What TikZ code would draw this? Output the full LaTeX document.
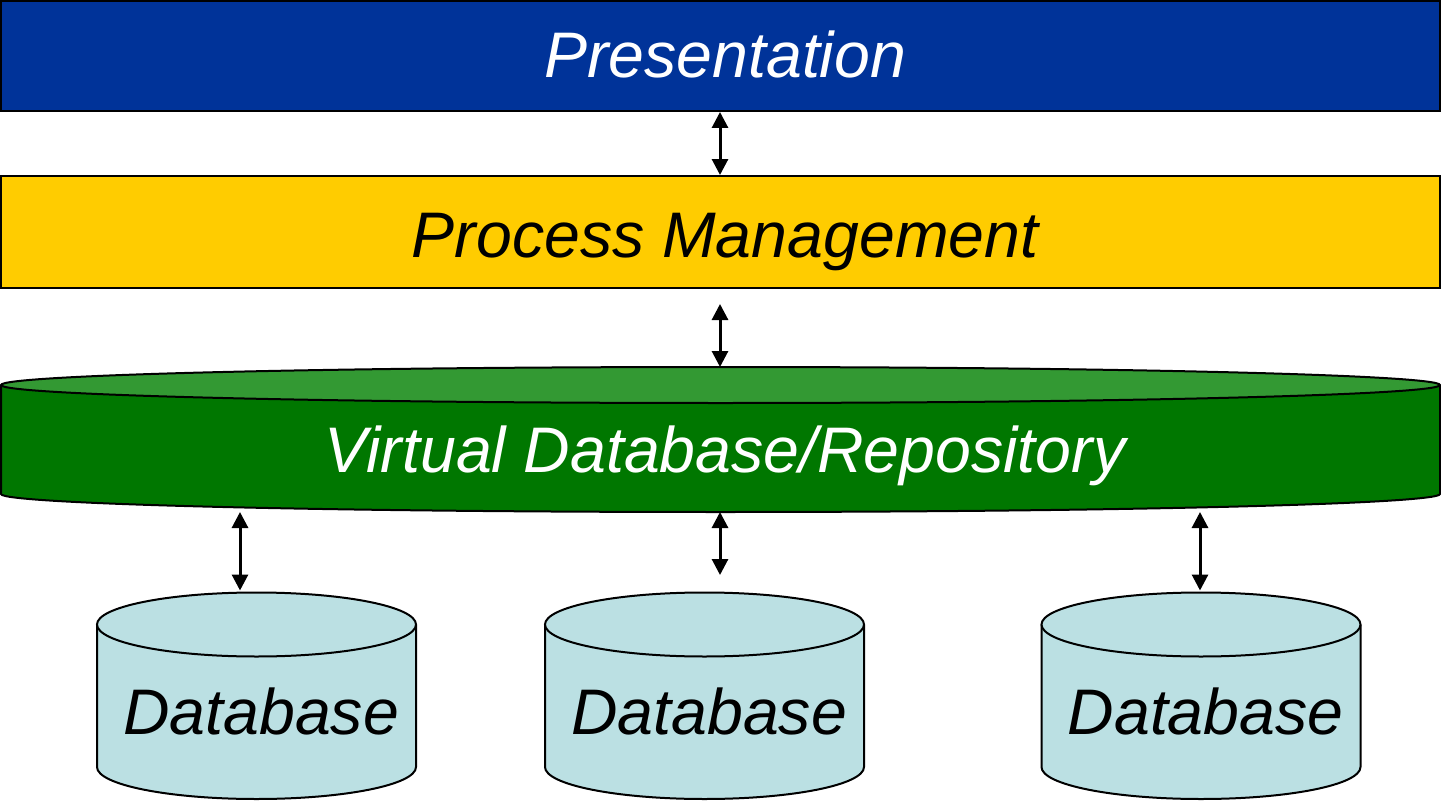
\documentclass[tikz,border=0pt]{standalone}
\usepackage{fontspec}
\setmainfont{Liberation Sans}
\usetikzlibrary{arrows.meta,calc}
\definecolor{presblue}{RGB}{0,51,153}
\definecolor{procyellow}{RGB}{255,204,0}
\definecolor{vdbbody}{RGB}{0,119,0}
\definecolor{vdbtop}{RGB}{51,153,51}
\definecolor{dbfill}{RGB}{187,224,227}
\tikzset{
  layerbox/.style={draw=black, line width=1pt, minimum width=719.5pt, inner sep=0pt},
  bigtext/.style={font=\itshape\fontsize{32.2pt}{38pt}\selectfont, anchor=base, inner sep=0pt, xshift=2.3pt},
  shapebox/.style={inner sep=0pt, outer sep=0pt},
  biarrow/.style={line width=1.5pt, {Triangle[length=8pt,width=8pt]}-{Triangle[length=8pt,width=8pt]}},
  cylline/.style={line width=1pt, draw=black}
}
\begin{document}
\begin{tikzpicture}[x=0.5pt,y=0.5pt]
\useasboundingbox (0,0) rectangle (1441,800);
% Presentation layer
\node[layerbox, fill=presblue, minimum height=55pt] (pres) at (720.5,744) {};
\node[bigtext, text=white] (prestext) at (720.5,722) {Presentation};
% Process management layer
\node[layerbox, fill=procyellow, minimum height=56pt] (proc) at (720.5,568) {};
\node[bigtext, text=black] (proctext) at (720.5,543) {Process Management};
% Virtual database cylinder
\node[shapebox, minimum width=719.5pt, minimum height=54.5pt] (vdb) at (720.5,360.5) {};
\fill[vdbbody] (vdb.north west) -- (vdb.south west)
  arc[start angle=180, end angle=360, x radius=359.75pt, y radius=9pt] -- (vdb.north east) -- cycle;
\draw[cylline] (vdb.north west) -- (vdb.south west)
  arc[start angle=180, end angle=360, x radius=359.75pt, y radius=9pt] -- (vdb.north east);
\draw[cylline, fill=vdbtop] (vdb.north) ellipse[x radius=359.75pt, y radius=9pt];
\node[bigtext, text=white] (vdbtext) at (720.5,328) {Virtual Database/Repository};
\coordinate (vdbtopc) at ($(vdb.north)+(0,9pt)$);
% Databases
\foreach \n/\cx in {db1/256.5, db2/704.5, db3/1201}{
  \node[shapebox, minimum width=159.5pt, minimum height=71.25pt] (\n) at (\cx,104.25) {};
  \fill[dbfill] (\n.north west) -- (\n.south west)
    arc[start angle=180, end angle=360, x radius=79.75pt, y radius=16pt] -- (\n.north east) -- cycle;
  \draw[cylline] (\n.north west) -- (\n.south west)
    arc[start angle=180, end angle=360, x radius=79.75pt, y radius=16pt] -- (\n.north east);
  \draw[cylline, fill=dbfill] (\n.north) ellipse[x radius=79.75pt, y radius=16pt];
  \node[bigtext, text=black] (\n text) at (\cx,66) {Database};
  \coordinate (\n top) at ($(\n.north)+(0,16pt)$);
}
% Connectors
\coordinate (s1) at (240,288);
\coordinate (s2) at (720,288);
\coordinate (s3) at (1200,288);
\coordinate (e2) at (720,225);
\draw[biarrow] (pres.south -| s2) -- (proc.north -| s2);
\draw[biarrow] ($(proc.south -| s2)+(0,-7.5pt)$) -- (vdbtopc -| s2);
\draw[biarrow] (s1) -- ($(s1 |- db1top)+(0,1pt)$);
\draw[biarrow] (s2) -- (e2);
\draw[biarrow] (s3) -- ($(s3 |- db3top)+(0,1pt)$);
\end{tikzpicture}
\end{document}
